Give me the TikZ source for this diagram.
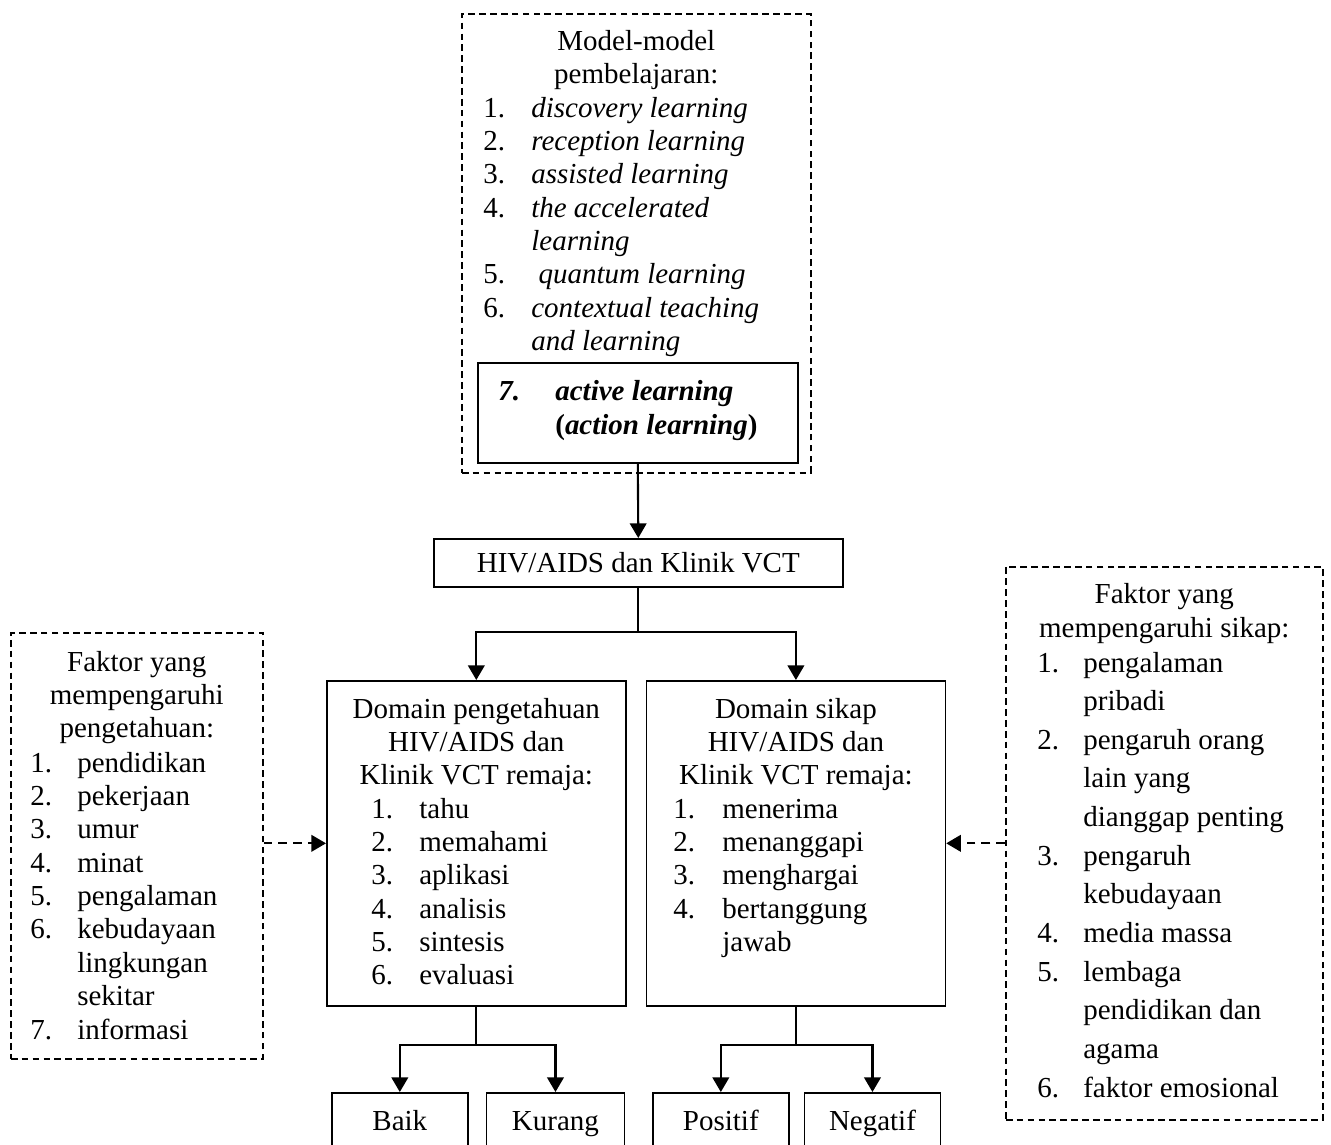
\documentclass[tikz,border=0pt]{standalone}
\usepackage{fontspec}
\setmainfont{Liberation Serif}
\usetikzlibrary{arrows.meta,positioning}

\begin{document}
\begin{tikzpicture}[x=0.02cm, y=-0.02cm,
    every node/.style={font=\fontsize{16.5}{19}\selectfont},
    box/.style={draw, line width=0.95pt, inner sep=0pt, anchor=north west},
    dbox/.style={box, dash pattern=on 3.8pt off 2.4pt},
    txt/.style={inner sep=0pt, anchor=base west},
    head/.style={inner sep=0pt, anchor=base},
    res/.style={box, text height=16pt, text depth=20pt, inner xsep=0pt, inner ysep=5.5pt},
    arrow/.style={-{Triangle[length=8.3pt,width=9.4pt]}, line width=1.2pt},
    dasharrow/.style={arrow, dash pattern=on 5pt off 3.4pt}
]
\clip (0,0) rectangle (1331,1144);

\node[dbox, minimum width=6.98cm, minimum height=9.18cm] (model) at (461,13) {};
\node[head] (modelhead) at (model.north |- 0,50) {\begin{tabular}[t]{@{}c@{}}Model-model\\pembelajaran:\end{tabular}};
\node[txt] (modellist) at (483,117) {\begin{tabular}[t]{@{}p{0.96cm}@{}l@{}}
1. & \textit{discovery learning}\\
2. & \textit{reception learning}\\
3. & \textit{assisted learning}\\
4. & \textit{the accelerated}\\
   & \textit{learning}\\
5. & \ \textit{quantum learning}\\
6. & \textit{contextual teaching}\\
   & \textit{and learning}
\end{tabular}};
\node[box, minimum width=6.4cm, minimum height=2cm] (act) at (477,362) {};
\node[txt] (acttxt) at (498,400) {\bfseries\begin{tabular}[t]{@{}p{1.14cm}@{}l@{}}
\textit{7.} & \textit{active learning}\\[0.85pt]
 & (\textit{action learning})
\end{tabular}};

\node[box, minimum width=8.18cm, minimum height=0.96cm] (hiv) at (433,538) {HIV/AIDS dan Klinik VCT};

\node[box, minimum width=5.98cm, minimum height=6.5cm] (dpeng) at (326,680) {};
\node[box, minimum width=5.98cm, minimum height=6.5cm, right=0.38cm of dpeng] (dsikap) {};
\node[head] (dpenghead) at (dpeng.north |- 0,718) {\begin{tabular}[t]{@{}c@{}}Domain pengetahuan\\HIV/AIDS dan\\Klinik VCT remaja:\end{tabular}};
\node[txt] (dpenglist) at (371,818) {\begin{tabular}[t]{@{}p{0.96cm}@{}l@{}}
1. & tahu\\
2. & memahami\\
3. & aplikasi\\
4. & analisis\\
5. & sintesis\\
6. & evaluasi
\end{tabular}};
\node[head] (dsikaphead) at (dsikap.north |- 0,718) {\begin{tabular}[t]{@{}c@{}}Domain sikap\\HIV/AIDS dan\\Klinik VCT remaja:\end{tabular}};
\node[txt] (dsikaplist) at (673,818) {\begin{tabular}[t]{@{}p{0.98cm}@{}l@{}}
1. & menerima\\
2. & menanggapi\\
3. & menghargai\\
4. & bertanggung\\
   & jawab
\end{tabular}};

\node[dbox, minimum width=5.04cm, minimum height=8.52cm] (fpeng) at (10,632) {};
\node[head] (fpenghead) at (fpeng.north |- 0,671) {\begin{tabular}[t]{@{}c@{}}Faktor yang\\mempengaruhi\\pengetahuan:\end{tabular}};
\node[txt] (fpenglist) at (30,772) {\begin{tabular}[t]{@{}p{0.94cm}@{}l@{}}
1. & pendidikan\\
2. & pekerjaan\\
3. & umur\\
4. & minat\\
5. & pengalaman\\
6. & kebudayaan\\
   & lingkungan\\
   & sekitar\\
7. & informasi
\end{tabular}};

\node[dbox, minimum width=6.34cm, minimum height=11.06cm] (fsikap) at (1005,566) {};
\node[head] (fsikaphead) at (fsikap.north |- 0,603) {\begin{tabular}[t]{@{}c@{}}Faktor yang\\[0.85pt]mempengaruhi sikap:\end{tabular}};
\node[txt] (fsikaplist) at (1037,672) {\begin{tabular}[t]{@{}p{0.92cm}@{}l@{}}
1. & pengalaman\\[3pt]
   & pribadi\\[3pt]
2. & pengaruh orang\\[3pt]
   & lain yang\\[3pt]
   & dianggap penting\\[3pt]
3. & pengaruh\\[3pt]
   & kebudayaan\\[3pt]
4. & media massa\\[3pt]
5. & lembaga\\[3pt]
   & pendidikan dan\\[3pt]
   & agama\\[3pt]
6. & faktor emosional
\end{tabular}};

\node[res, minimum width=2.72cm] (baik) at (331,1092) {Baik};
\node[res, minimum width=2.76cm, right=0.34cm of baik] (kurang) {Kurang};
\node[res, minimum width=2.72cm] (positif) at (652,1092) {Positif};
\node[res, minimum width=2.72cm, right=0.28cm of positif] (negatif) {Negatif};

\draw[arrow] (act.south) -- (hiv.north);
\draw[arrow] (hiv.south) -- ++(0,44) -| (dpeng.north);
\draw[arrow] (hiv.south) -- ++(0,44) -| (dsikap.north);
\draw[arrow] (dpeng.south) -- ++(0,38) -| (baik.north);
\draw[arrow] (dpeng.south) -- ++(0,38) -| (kurang.north);
\draw[arrow] (dsikap.south) -- ++(0,38) -| (positif.north);
\draw[arrow] (dsikap.south) -- ++(0,38) -| (negatif.north);
\draw[dasharrow] (fpeng.east |- dpeng.west) -- (dpeng.west);
\draw[dasharrow] (fsikap.west |- dsikap.east) -- (dsikap.east);
\end{tikzpicture}
\end{document}
